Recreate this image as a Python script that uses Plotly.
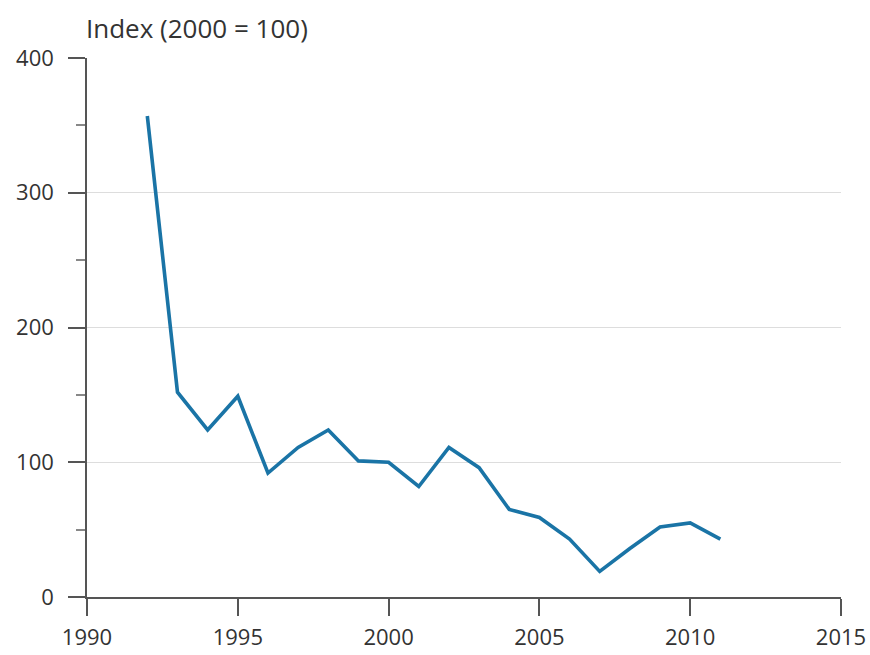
import plotly.graph_objects as go

years = [1992, 1993, 1994, 1995, 1996, 1997, 1998, 1999, 2000, 2001, 2002,
         2003, 2004, 2005, 2006, 2007, 2008, 2009, 2010, 2011]
index_values = [357, 152, 124, 149, 92, 111, 124, 101, 100, 82, 111,
                96, 65, 59, 43, 19, 36, 52, 55, 43]
x_ticks = [1990, 1995, 2000, 2005, 2010, 2015]
y_ticks = [0, 100, 200, 300, 400]
title_text = "Index (2000 = 100)"

font_family = "Open Sans, Lato, sans-serif"
axis_color = "#555555"
text_color = "#333333"

fig = go.Figure()
fig.add_trace(go.Scatter(
    x=years, y=index_values, mode="lines",
    line=dict(color="#1a74a6", width=3.6),
    hoverinfo="skip", showlegend=False,
))

fig.update_layout(
    width=870, height=655,
    margin=dict(l=87, r=29, t=58, b=58, autoexpand=False),
    paper_bgcolor="white", plot_bgcolor="white",
    font=dict(family=font_family, size=20, color=text_color),
    showlegend=False,
)

fig.update_xaxes(
    range=[1990, 2015], tickvals=x_ticks, ticktext=[str(v) for v in x_ticks],
    showgrid=False, zeroline=False, automargin=False,
    showline=True, linecolor=axis_color, linewidth=1.5,
    ticks="outside", ticklen=17, tickwidth=1.5, tickcolor=axis_color,
    ticklabelstandoff=3,
    tickfont=dict(size=22, color=text_color),
)
fig.update_yaxes(
    range=[0, 400], tickvals=y_ticks, ticktext=[str(v) for v in y_ticks],
    showgrid=True, gridcolor="#dddddd", gridwidth=1, zeroline=False,
    automargin=False,
    showline=True, linecolor=axis_color, linewidth=1.5,
    ticks="outside", ticklen=17, tickwidth=1.5, tickcolor=axis_color,
    ticklabelstandoff=10,
    minor=dict(ticks="outside", ticklen=9, tickwidth=1.5, tickcolor="#888888",
               dtick=50, tick0=0, showgrid=False),
    tickfont=dict(size=22, color=text_color),
)

fig.add_annotation(
    text=title_text, xref="paper", yref="paper", x=0, y=1,
    xanchor="left", yanchor="middle", yshift=30, xshift=-3, showarrow=False,
    font=dict(size=26, color=text_color, family=font_family),
)

fig.write_html(
    "out.html",
    config={"displayModeBar": False},
    post_script="document.body.style.margin='0';document.body.style.overflow='hidden';",
)
